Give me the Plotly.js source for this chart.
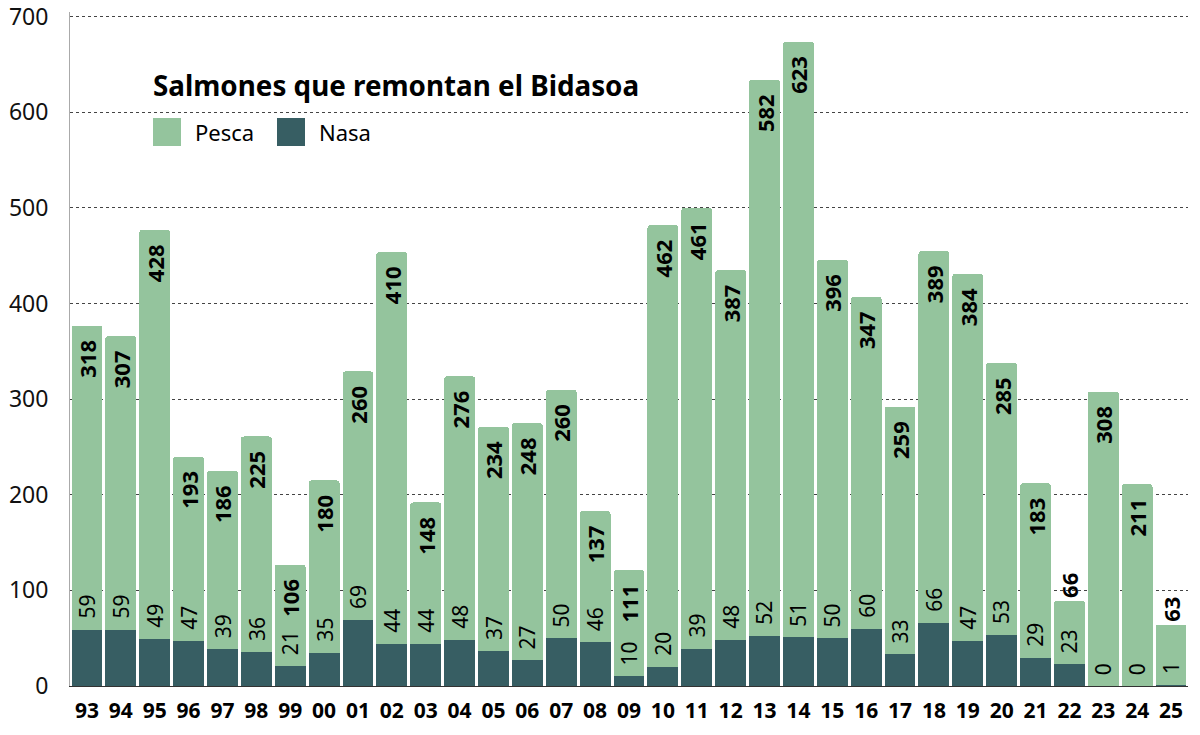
<!DOCTYPE html>
<html>
<head>
<meta charset="utf-8">
<script src="https://cdn.plot.ly/plotly-3.0.1.min.js"></script>
<style>
  html, body { margin: 0; padding: 0; background: #ffffff; }
  #chart { width: 1200px; height: 735px; }
</style>
</head>
<body>
<div id="chart"></div>
<script>
(function () {
  'use strict';

  // Data
  var years = ['93', '94', '95', '96', '97', '98', '99', '00', '01', '02', '03',
    '04', '05', '06', '07', '08', '09', '10', '11', '12', '13', '14', '15',
    '16', '17', '18', '19', '20', '21', '22', '23', '24', '25'];
  var pesca = [318, 307, 428, 193, 186, 225, 106, 180, 260, 410, 148,
    276, 234, 248, 260, 137, 111, 462, 461, 387, 582, 623, 396,
    347, 259, 389, 384, 285, 183, 66, 308, 211, 63];
  var nasa = [59, 59, 49, 47, 39, 36, 21, 35, 69, 44, 44,
    48, 37, 27, 50, 46, 10, 20, 39, 48, 52, 51, 50,
    60, 33, 66, 47, 53, 29, 23, 0, 0, 1];
  var yTicks = [0, 100, 200, 300, 400, 500, 600, 700];

  var fontFamily = '"Noto Sans", "DejaVu Sans", sans-serif';
  var pescaColor = '#94c49d';
  var nasaColor = '#375e63';

  // Pesca labels go outside when the bar is too short
  var pescaPos = pesca.map(function (v) {
    return v < 80 ? 'outside' : 'inside';
  });
  // inside labels get a little room under the bar top (trailing nbsp)
  var pescaText = pesca.map(function (v, i) {
    return pescaPos[i] === 'inside' ? v + '\u00a0\u00a0' : String(v);
  });

  var traces = [
    {
      name: 'Nasa',
      x: years,
      y: nasa,
      type: 'bar',
      marker: { color: nasaColor, line: { width: 0 } },
      hoverinfo: 'x+y',
    },
    {
      name: 'Pesca',
      x: years,
      y: pesca,
      type: 'bar',
      marker: { color: pescaColor, line: { width: 0 } },
      text: pescaText,
      textposition: pescaPos,
      insidetextanchor: 'end',
      textangle: -90,
      constraintext: 'none',
      cliponaxis: false,
      textfont: { family: fontFamily, size: 22, color: '#000000', weight: 'bold' },
      hoverinfo: 'x+y',
    },
  ];

  // Nasa values sit just above the dark segment (x given as category index)
  var annotations = years.map(function (yr, i) {
    return {
      x: i,
      y: nasa[i],
      xref: 'x',
      yref: 'y',
      text: String(nasa[i]),
      textangle: -90,
      showarrow: false,
      yanchor: 'bottom',
      yshift: 9,
      font: { family: fontFamily, size: 21, color: '#000000' },
    };
  });

  // Custom legend (big squares)
  var legendItems = [
    { label: 'Pesca', color: pescaColor, x0: 153 },
    { label: 'Nasa', color: nasaColor, x0: 277 },
  ];
  var plotTop = 12, plotBottom = 686;
  var plotH = plotBottom - plotTop;
  var shapes = [];
  legendItems.forEach(function (item) {
    shapes.push({
      type: 'rect',
      xref: 'paper',
      yref: 'paper',
      x0: (item.x0 - 70) / 1118,
      x1: (item.x0 + 28 - 70) / 1118,
      y0: (plotBottom - 146) / plotH,
      y1: (plotBottom - 118) / plotH,
      fillcolor: item.color,
      line: { width: 0 },
    });
    annotations.push({
      xref: 'paper',
      yref: 'paper',
      x: (item.x0 + 40 - 70) / 1118,
      y: (plotBottom - 132) / plotH,
      xanchor: 'left',
      yanchor: 'middle',
      text: item.label,
      showarrow: false,
      font: { family: fontFamily, size: 22, color: '#000000' },
    });
  });

  var layout = {
    width: 1200,
    height: 735,
    margin: { t: plotTop, r: 12, b: 735 - plotBottom, l: 70 },
    paper_bgcolor: '#ffffff',
    plot_bgcolor: '#ffffff',
    font: { family: fontFamily, color: '#000000' },
    barmode: 'stack',
    bargap: 0.09,
    barcornerradius: 3,
    showlegend: false,
    title: {
      text: '<b>Salmones que remontan el Bidasoa</b>',
      xref: 'container',
      yref: 'container',
      x: 153 / 1200,
      xanchor: 'left',
      y: 1 - 86 / 735,
      yanchor: 'middle',
      font: { family: fontFamily, size: 27.8, color: '#000000' },
    },
    xaxis: {
      type: 'category',
      range: [-0.5, years.length - 0.5],
      showgrid: false,
      showline: true,
      linecolor: '#333333',
      linewidth: 1,
      ticks: '',
      ticklabelstandoff: 6,
      tickfont: { family: fontFamily, size: 21, color: '#000000', weight: 'bold' },
    },
    yaxis: {
      range: [0, 705],
      tickvals: yTicks,
      showgrid: true,
      gridcolor: '#444444',
      griddash: 'dot',
      gridwidth: 1,
      zeroline: false,
      showline: true,
      linecolor: '#aaaaaa',
      linewidth: 1,
      ticks: '',
      ticklabelstandoff: 16,
      ticklabeloverflow: 'allow',
      tickfont: { family: fontFamily, size: 23, color: '#111111' },
    },
    annotations: annotations,
    shapes: shapes,
  };

  Plotly.newPlot('chart', traces, layout, { displayModeBar: false, responsive: false });
})();
</script>
</body>
</html>
